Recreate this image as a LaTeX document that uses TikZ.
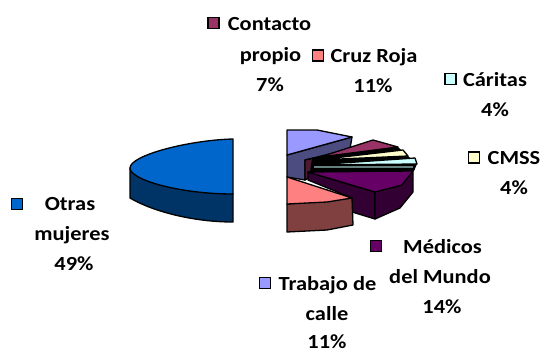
\documentclass[tikz,border=0pt]{standalone}
\usepackage{fontspec}
\setmainfont{Carlito}[BoldFont={Carlito Bold},BoldFeatures={FakeStretch=1.12}]
\definecolor{cBlue}{HTML}{0066CC}
\definecolor{cBlueS}{HTML}{003366}
\definecolor{cPeri}{HTML}{9999FF}
\definecolor{cPeriS}{HTML}{4C4C80}
\definecolor{cMag}{HTML}{993366}
\definecolor{cMagS}{HTML}{4C1A33}
\definecolor{cPink}{HTML}{FF8080}
\definecolor{cPinkS}{HTML}{804040}
\definecolor{cCyan}{HTML}{CCFFFF}
\definecolor{cCyanS}{HTML}{668080}
\definecolor{cYel}{HTML}{FFFFCC}
\definecolor{cVio}{HTML}{660066}
\definecolor{cVioS}{HTML}{330033}
\begin{document}
\begin{tikzpicture}[x=1pt,y=-1pt,
  slice/.style={draw=black,line width=1.3pt,line join=round},
  lab/.style={font=\fontsize{20}{22}\selectfont\bfseries,text=black,inner sep=0pt,anchor=base},
  key/.style={draw=black,line width=1.2pt,minimum size=11pt,inner sep=0pt}]
\useasboundingbox (0,0) rectangle (542,351);
% Otras mujeres
\draw[slice,fill=cBlueS] (130,168) -- (130,198) .. controls (150,210) and (190,222) .. (233,222) -- (233,194) -- cycle;
\draw[slice,fill=cBlue] (233,139) .. controls (190,140) and (130,155) .. (130,168) .. controls (130,180) and (180,194) .. (233,194) -- cycle;
% Trabajo de calle
\draw[slice,fill=cPeriS] (287,155) -- (352,137) -- (350,149) -- (305,160) -- (305,180) -- (287,177) -- cycle;
\draw[slice,fill=cPeri] (287,130) -- (317,130) -- (352,137) -- (287,155) -- cycle;
% Contacto propio
\draw[slice,fill=cMagS] (305,160) -- (320,157) -- (320,172) -- (305,180) -- cycle;
\fill[black] (312,158) -- (398,147) -- (408,156) -- (417,164) -- (414,171) -- (310,172) -- cycle;
\draw[slice,fill=cMag] (320,157) -- (373,140) -- (398,147) -- cycle;
% CMSS
\draw[slice,fill=cYel] (317,160) -- (403,150) -- (408,156) -- cycle;
% Caritas
\draw[slice,fill=cCyan] (313,165) -- (415,158) -- (417,164) -- cycle;
\draw[slice,fill=cCyanS] (313,165) -- (414,165) -- (414,169) -- (313,169) -- cycle;
% Medicos del Mundo
\draw[slice,fill=cVioS] (308,172) -- (308,180) -- (352,198) -- (352,212) -- (375,219) -- (375,192) -- cycle;
\draw[slice,fill=cVioS] (375,192) -- (413,171) -- (413,192) -- (400,208) -- (375,219) -- cycle;
\draw[slice,fill=cVio] (308,172) -- (413,171) -- (402,185) -- (375,192) -- cycle;
% Cruz Roja
\draw[slice,fill=cPinkS] (287,204) -- (352,198) -- (353,225) -- (327,230) -- (287,232) -- cycle;
\draw[slice,fill=cPink] (287,177) -- (352,198) -- (327,202) -- (287,204) -- cycle;
% Keys
\node[key,fill=cMag] (k1) at (213.5,23) {};
\node[key,fill=cPink] (k2) at (318,55.5) {};
\node[key,fill=cCyan] (k3) at (450.5,79) {};
\node[key,fill=cYel] (k4) at (474,157.5) {};
\node[key,fill=cVio] (k5) at (376,246) {};
\node[key,fill=cPeri] (k6) at (265,283) {};
\node[key,fill=cBlue] (k7) at (17,204) {};
% Labels
\node[lab] (a1) at (269.5,30) {Contacto};
\node[lab] (a2) at (270.5,61) {propio};
\node[lab] (a3) at (270,91) {7\%};
\node[lab] (b1) at (374,62) {Cruz Roja};
\node[lab] (b2) at (373,92) {11\%};
\node[lab] (c1) at (495,86) {Cáritas};
\node[lab] (c2) at (495,116) {4\%};
\node[lab] (d1) at (514,164) {CMSS};
\node[lab] (d2) at (514,194) {4\%};
\node[lab] (e1) at (442.5,253) {Médicos};
\node[lab] (e2) at (440,283) {del Mundo};
\node[lab] (e3) at (442,313) {14\%};
\node[lab] (f1) at (327.5,290) {Trabajo de};
\node[lab] (f2) at (327,320) {calle};
\node[lab] (f3) at (327,348) {11\%};
\node[lab] (g1) at (70,210) {Otras};
\node[lab] (g2) at (72,240) {mujeres};
\node[lab] (g3) at (74,270) {49\%};
\end{tikzpicture}
\end{document}
